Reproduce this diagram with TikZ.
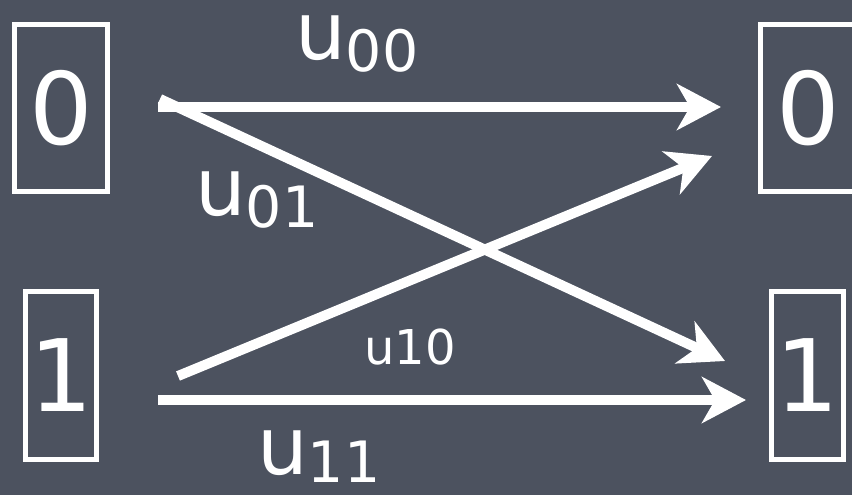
\documentclass[tikz,border=0pt]{standalone}
\usepackage{fontspec}
\setmainfont{DejaVu Sans}
\usetikzlibrary{arrows.meta}
\definecolor{board}{RGB}{76,82,95}
\begin{document}
\begin{tikzpicture}[x=1pt,y=-1pt,
  box/.style={draw=white, line width=5pt, inner sep=0pt, text=white,
    font=\fontsize{100}{100}\selectfont},
  arr/.style={draw=white, line width=10pt,
    -{Stealth[length=44pt,width=46pt,inset=13pt]}},
  lbl/.style={text=white, inner sep=0pt, anchor=base west}]
\fill[board] (0,0) rectangle (852,495);
\useasboundingbox (0,0) rectangle (852,495);
% boxes
\node[box, minimum width=93pt, minimum height=167pt] (L0) at (61,108) {0};
\node[box, minimum width=96pt, minimum height=167pt] (R0) at (808.5,108) {0};
\node[box, minimum width=71pt, minimum height=168pt] (L1) at (61,375.5) {1};
\node[box, minimum width=72pt, minimum height=168pt] (R1) at (807.5,375.5) {1};
% connector ends
\coordinate (s00) at (158,107);
\coordinate (e00) at (721,107);
\coordinate (s01) at (160,99);
\coordinate (e01) at (725,361);
\coordinate (s10) at (178,376);
\coordinate (e10) at (712,156);
\coordinate (s11) at (158,400);
\coordinate (e11) at (746,400);
\draw[arr] (s00) -- (e00);
\draw[arr] (s01) -- (e01);
\draw[arr] (s10) -- (e10);
\draw[arr] (s11) -- (e11);
% labels
\node[lbl] (l00) at (295,60) {{\fontsize{80}{80}\selectfont u}\raisebox{-12pt}{\fontsize{57}{57}\selectfont 00}};
\node[lbl] (l01) at (195,215) {{\fontsize{80}{80}\selectfont u}\raisebox{-12pt}{\fontsize{57}{57}\selectfont 01}};
\node[lbl] (l11) at (257,474) {{\fontsize{80}{80}\selectfont u}\raisebox{-8pt}{\fontsize{57}{57}\selectfont 11}};
\node[lbl, font=\fontsize{48}{48}\selectfont] (l10) at (364,364) {u10};
\end{tikzpicture}
\end{document}
